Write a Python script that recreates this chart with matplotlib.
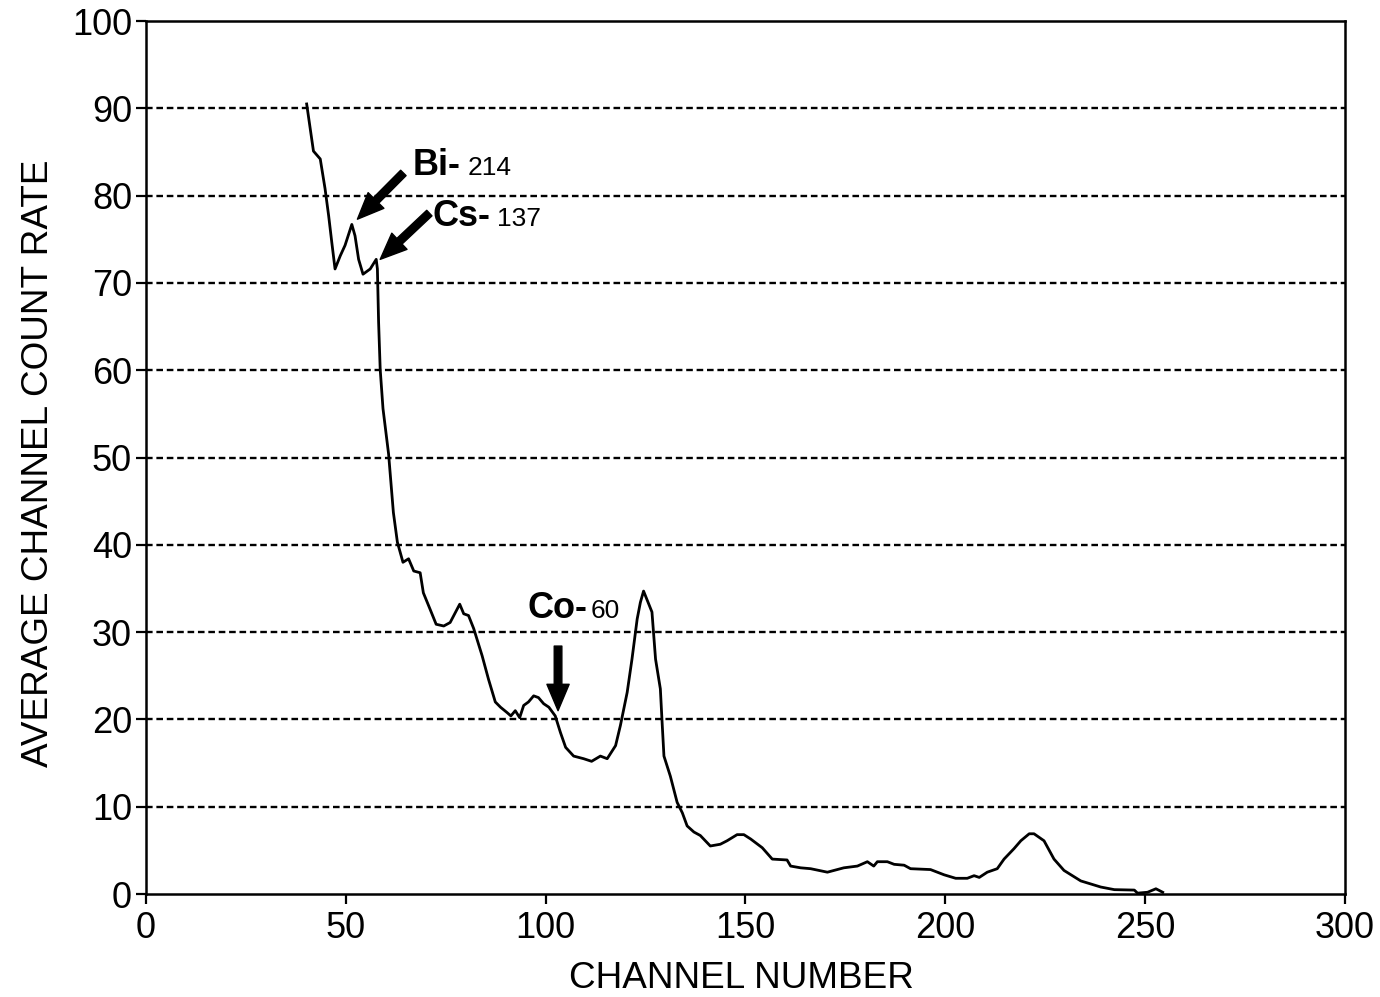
import matplotlib
matplotlib.use("Agg")
import matplotlib.pyplot as plt

plt.rcParams['font.family'] = ['Liberation Sans', 'DejaVu Sans']

# Gamma spectrum: average count rate per channel
channel = [40.2, 41.9, 43.6, 44.8, 45.7, 46.5, 47.3, 48.6, 49.8, 51.5, 52.3, 53.2,
           54.3, 56.1, 57.6, 57.9, 58.2, 58.6, 59.3, 60.7, 61.9, 62.9, 64.3, 65.7,
           67.0, 68.6, 69.4, 71.1, 72.6, 74.5, 76.1, 78.5, 79.5, 80.7, 82.0, 84.1,
           85.7, 87.4, 88.7, 90.3, 91.3, 92.4, 93.5, 94.5, 95.7, 97.0, 98.2, 99.5,
           100.8, 102.4, 103.7, 105.0, 107.0, 109.5, 111.5, 113.7, 115.4, 117.5,
           118.7, 120.4, 121.6, 122.9, 123.7, 124.5, 126.6, 127.5, 128.7, 129.1,
           129.6, 131.2, 132.9, 134.2, 135.4, 137.1, 138.7, 141.2, 143.7, 145.4,
           147.9, 149.6, 151.3, 154.2, 156.7, 160.4, 161.3, 163.8, 166.3, 170.5,
           174.6, 178.0, 180.5, 182.1, 183.0, 185.5, 187.2, 189.7, 191.3, 196.3,
           199.7, 202.6, 205.5, 207.2, 208.5, 210.5, 213.0, 214.7, 217.2, 218.9,
           221.0, 222.2, 224.7, 227.2, 229.7, 233.9, 238.9, 242.3, 247.3, 248.1,
           250.6, 252.7, 254.4]
count_rate = [90.5, 85.1, 84.2, 80.8, 77.7, 74.6, 71.6, 73.1, 74.3, 76.7, 75.4, 72.7,
              71.0, 71.6, 72.7, 71.6, 65.5, 60.1, 55.6, 50.4, 43.7, 40.3, 38.0, 38.4,
              37.0, 36.8, 34.5, 32.6, 30.9, 30.7, 31.1, 33.2, 32.1, 31.9, 30.4, 27.3,
              24.6, 22.0, 21.4, 20.8, 20.4, 21.0, 20.2, 21.6, 22.0, 22.7, 22.5, 21.8,
              21.4, 20.4, 18.5, 16.8, 15.8, 15.5, 15.2, 15.8, 15.5, 17.0,
              19.3, 23.1, 26.9, 31.5, 33.4, 34.7, 32.3, 26.9, 23.5, 20.0,
              15.8, 13.5, 10.5, 9.3, 7.8, 7.1, 6.7, 5.5, 5.7, 6.1,
              6.8, 6.8, 6.3, 5.3, 4.0, 3.9, 3.2, 3.0, 2.9, 2.5,
              3.0, 3.2, 3.7, 3.2, 3.7, 3.7, 3.4, 3.3, 2.9, 2.8,
              2.2, 1.8, 1.8, 2.1, 1.9, 2.5, 2.9, 4.0, 5.2, 6.1,
              6.9, 6.9, 6.1, 4.0, 2.7, 1.5, 0.8, 0.5, 0.45, 0.1,
              0.2, 0.6, 0.2]

x_ticks = [0, 50, 100, 150, 200, 250, 300]
y_ticks = [0, 10, 20, 30, 40, 50, 60, 70, 80, 90, 100]

# Isotope annotations: (symbol, mass number, text anchor, mass-number x, arrow tail, arrow tip)
isotopes = [
    ("Bi-", "214", (66.6, 82.4), 80.6, (64.4, 82.6), (52.9, 77.3)),
    ("Cs-", "137", (71.6, 76.5), 87.9, (70.9, 78.0), (58.6, 72.7)),
    ("Co-", "60", (95.4, 31.6), 111.2, (103.1, 28.4), (103.1, 21.0)),
]

fig = plt.figure(figsize=(13.8, 9.97), dpi=100)
ax = fig.add_axes([0.1058, 0.1033, 0.8688, 0.8756])

# Dashed horizontal grid (interior lines only)
for yv in y_ticks[1:-1]:
    ax.axhline(yv, color='black', lw=1.7, linestyle=(0, (2.8, 1.6)), zorder=1)

ax.plot(channel, count_rate, color='black', lw=2.0, zorder=3)

ax.set_xlim(0, 300)
ax.set_ylim(0, 100)
ax.set_xticks(x_ticks)
ax.set_yticks(y_ticks)
ax.tick_params(axis='both', direction='out', length=7, width=1.6,
               labelsize=26, pad=3, color='black')
ax.tick_params(axis='x', pad=5)
for sp in ax.spines.values():
    sp.set_linewidth(1.8)
    sp.set_color('black')

ax.set_xlabel("CHANNEL NUMBER", fontsize=26.6, va='baseline')
ax.xaxis.set_label_coords(0.4967, -0.1077)
ax.set_ylabel("AVERAGE CHANNEL COUNT RATE", fontsize=26.6, va='baseline')
ax.yaxis.set_label_coords(-0.0817, 0.494)

for sym, mass, (tx, ty), mx, tail, tip in isotopes:
    ax.text(tx, ty, sym, fontsize=26, fontweight='bold', ha='left', va='baseline', zorder=5)
    ax.text(mx, ty, mass, fontsize=19, ha='left', va='baseline', zorder=5)
    ax.annotate("", xy=tip, xytext=tail,
                arrowprops=dict(width=5.5, headwidth=16, headlength=19,
                                facecolor='black', edgecolor='black', shrink=0.0),
                zorder=5)

fig.savefig("out.png", dpi=100, facecolor='white')
